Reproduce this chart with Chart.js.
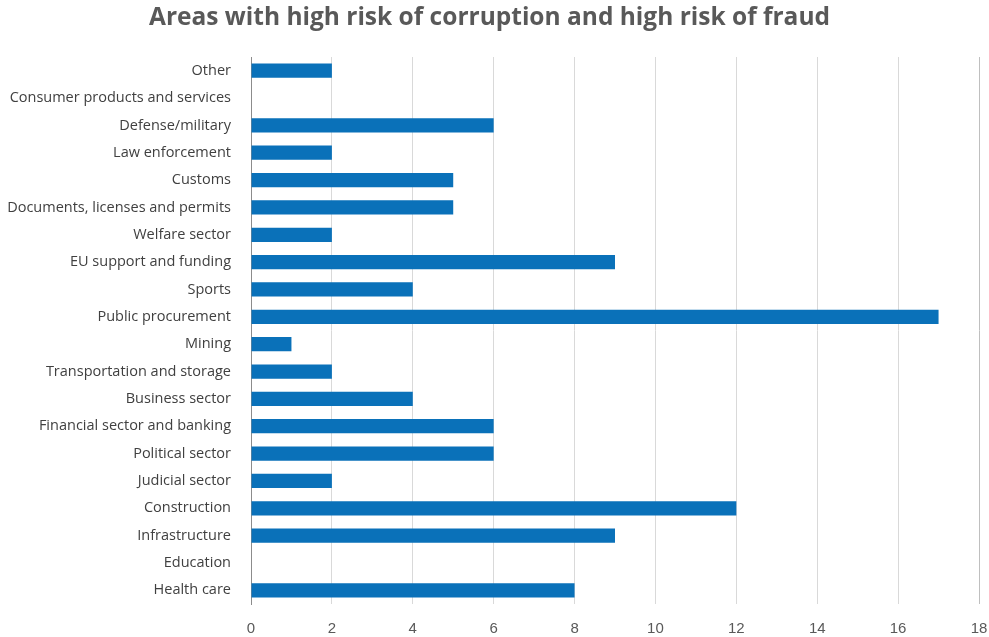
<!DOCTYPE html>
<html>
<head>
<meta charset="utf-8">
<script src="https://cdn.jsdelivr.net/npm/chart.js@4/dist/chart.umd.min.js"></script>
<style>
    body { margin: 0; background: #fff; }
    #wrap { width: 989px; height: 637px; }
</style>
</head>
<body>
<div id="wrap"><canvas id="chart"></canvas></div>
<script>
const categories = [
    "Other",
    "Consumer products and services",
    "Defense/military",
    "Law enforcement",
    "Customs",
    "Documents, licenses and permits",
    "Welfare sector",
    "EU support and funding",
    "Sports",
    "Public procurement",
    "Mining",
    "Transportation and storage",
    "Business sector",
    "Financial sector and banking",
    "Political sector",
    "Judicial sector",
    "Construction",
    "Infrastructure",
    "Education",
    "Health care"
];
const counts = [2, 0, 6, 2, 5, 5, 2, 9, 4, 17, 1, 2, 4, 6, 6, 2, 12, 9, 0, 8];
const xTicks = [0, 2, 4, 6, 8, 10, 12, 14, 16, 18];

const chart = new Chart("chart", {
    type: "bar",
    data: {
        labels: categories,
        datasets: [{
            label: "Areas",
            data: counts,
            backgroundColor: "#0A71B9",
            borderWidth: 0,
            barPercentage: 0.52,
            categoryPercentage: 1
        }]
    },
    options: {
        indexAxis: "y",
        responsive: true,
        maintainAspectRatio: false,
        animation: false,
        layout: {
            padding: { left: 0, right: 10, top: 0, bottom: 0 }
        },
        scales: {
            x: {
                min: 0,
                max: 18,
                afterBuildTicks: (scale) => {
                    scale.ticks = xTicks.map(v => ({ value: v }));
                },
                afterFit: (scale) => {
                    scale.height = 33;
                    scale.paddingLeft = 0;
                    scale.paddingRight = 0;
                },
                border: { display: false },
                grid: {
                    drawTicks: false,
                    color: (ctx) => ctx.tick && ctx.tick.value === 18 ? "#bfbfbf" : "#d9d9d9"
                },
                ticks: {
                    padding: 16,
                    color: "#595959",
                    font: { family: "Liberation Sans", size: 15 }
                }
            },
            y: {
                afterFit: (scale) => { scale.width = 251; },
                border: { color: "#8c8c8c", width: 1 },
                grid: { display: false, drawTicks: false },
                ticks: {
                    padding: 20,
                    color: "#404040",
                    font: { family: "Open Sans", size: 14.5 }
                }
            }
        },
        plugins: {
            legend: { display: false },
            tooltip: { enabled: false },
            title: {
                display: true,
                text: "Areas with high risk of corruption and high risk of fraud",
                color: "#595959",
                font: { family: "Open Sans", size: 24.5, weight: "bold" },
                padding: { top: 3, bottom: 24.6 }
            }
        }
    }
})
</script>
</body>
</html>
